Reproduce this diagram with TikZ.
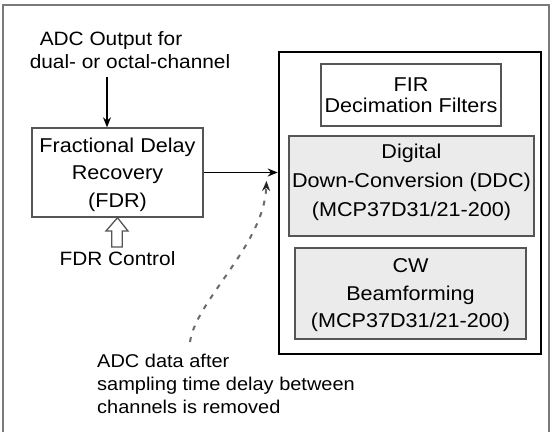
\documentclass[tikz,border=0pt]{standalone}
\usepackage{fontspec}
\setmainfont{Liberation Sans}[FakeStretch=1.08]
\usetikzlibrary{arrows.meta}
\definecolor{framegray}{HTML}{7A7A7A}
\definecolor{boxgray}{HTML}{555555}
\definecolor{shade}{HTML}{EBEBEB}
\definecolor{dashgray}{HTML}{6A6A6A}
\definecolor{tipgray}{HTML}{262626}
\begin{document}
\begin{tikzpicture}[x=1pt,y=-1pt,
  box/.style={draw=boxgray, line width=1.4pt, fill=white, inner sep=0pt},
  shaded/.style={box, fill=shade},
  bigbox/.style={draw=black, line width=2.6pt, inner sep=0pt},
  txt/.style={inner sep=0pt, align=center, font=\fontsize{19.3}{23}\selectfont},
  btxt/.style={inner sep=0pt, align=center, font=\fontsize{20}{#1}\selectfont},
  conn/.style={line width=1.1pt, -{Stealth[length=10pt,width=8pt]}},
  dconn/.style={draw=dashgray, line width=2pt, dash pattern=on 5pt off 7pt,
    -{Stealth[length=10pt,width=8pt,color=tipgray,fill=tipgray]}},
  hollow/.style={draw=boxgray, line width=1.3pt, fill=white, line join=miter}
]
\clip (0,0) rectangle (551,431);
\fill[white] (0,0) rectangle (551,431);
\draw[framegray, line width=1.5pt] (3,5) rectangle (549,445);

% right block
\node[bigbox, minimum width=262pt, minimum height=302pt] (big) at (410,203) {};
\node[box, minimum width=180pt, minimum height=62pt] (fir) at (411,95) {};
\node[shaded, minimum width=245pt, minimum height=100pt] (ddc) at (411.5,186) {};
\node[shaded, minimum width=231pt, minimum height=91pt] (cw) at (410.5,293.5) {};
\node[btxt=21, anchor=north] (firt) at (411,77.4) {FIR\\Decimation Filters};
\node[btxt=29, anchor=north] (ddct) at (411.5,143.7) {Digital\\Down-Conversion (DDC)\\(MCP37D31/21-200)};
\node[btxt=27.5, anchor=north] (cwt) at (410.5,258.7) {CW\\Beamforming\\(MCP37D31/21-200)};

% FDR block
\node[box, minimum width=171pt, minimum height=89pt] (fdr) at (117.5,172.5) {};
\node[btxt=27.5, anchor=north] (fdrt) at (117.5,137.4) {Fractional Delay\\Recovery\\(FDR)};

% labels
\node[txt, anchor=base] (inA) at (111,45) {ADC Output for};
\node[txt, anchor=base] (inB) at (130,68.3) {dual- or octal-channel};
\node[txt, anchor=base] (ctl) at (117.5,265) {FDR Control};
\node[inner sep=0pt, align=left, anchor=north west, font=\fontsize{18.5}{23}\selectfont] (note) at (97,353.8)
  {ADC data after\\sampling time delay between\\channels is removed};

% connectors
\coordinate (ax) at (107,0);
\draw[conn] (inB.south -| ax) ++(0,8) -- (fdr.north -| ax);
\draw[conn] (fdr.east) -- (fdr.east -| big.west);
\coordinate (dstart) at (190,342);
\coordinate (dend) at (266.5,181);
\draw[dconn] (dstart) .. controls (196,300) and (264,245) .. (dend);

% hollow arrow (FDR control)
\draw[hollow] (fdr.south) -- (128,231) -- (122.3,231) -- (122.3,247)
  -- (111.7,247) -- (111.7,231) -- (106,231) -- cycle;
\end{tikzpicture}
\end{document}
